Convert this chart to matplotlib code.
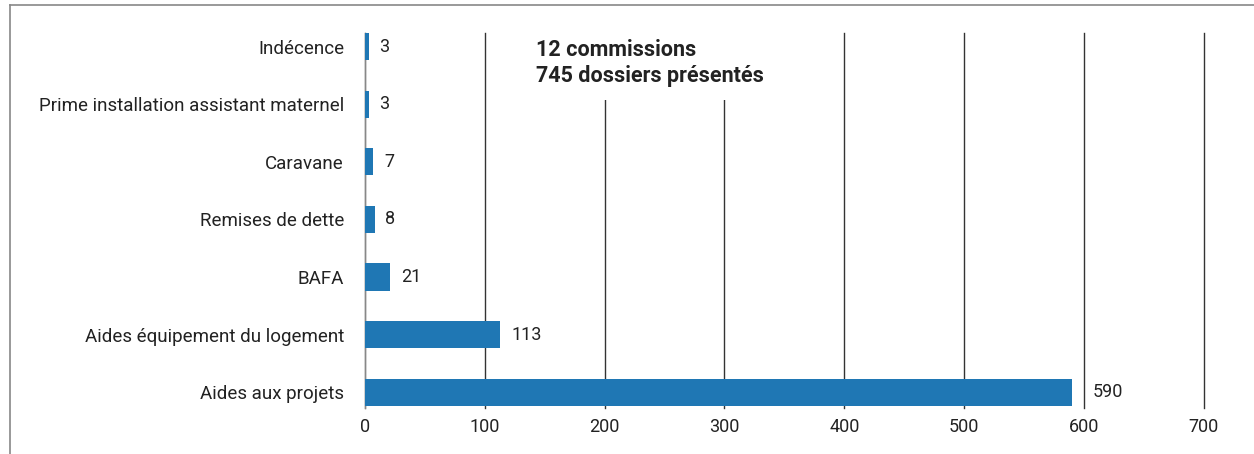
import matplotlib.pyplot as plt
from matplotlib.lines import Line2D
from matplotlib.patches import Rectangle

categories = ['Indécence', 'Prime installation assistant maternel', 'Caravane',
              'Remises de dette', 'BAFA', 'Aides équipement du logement', 'Aides aux projets']
values = [3, 3, 7, 8, 21, 113, 590]
xticks = [0, 100, 200, 300, 400, 500, 600, 700]

plt.rcParams['font.family'] = ['Roboto', 'DejaVu Sans']

fig = plt.figure(figsize=(12.54, 4.54), dpi=100)
ax = fig.add_axes([0.291, 0.101, 0.669, 0.826])

ypos = list(range(len(categories)))
ax.barh(ypos, values, height=0.47, color='#1f77b4', zorder=3)
for y, v in zip(ypos, values):
    x = v + 9
    # push label past a gridline if it would sit on it
    for t in xticks:
        if v < t <= x + 3:
            x = t + 7
    ax.text(x, y, str(v), va='center', ha='left', fontsize=13, color='#222222')

ax.set_xlim(0, 700)
ax.set_ylim(6.28, -0.24)
ax.set_yticks(ypos)
ax.set_yticklabels(categories, fontsize=13.5, color='#222222')
ax.set_xticks(xticks)
ax.set_xticklabels([str(t) for t in xticks], fontsize=13, color='#222222')
ax.tick_params(axis='y', length=0, pad=15)
ax.tick_params(axis='x', length=0, pad=7)
for s in ['top', 'right', 'bottom']:
    ax.spines[s].set_visible(False)
ax.spines['left'].set_color('#888888')
ax.set_axisbelow(True)
ax.grid(axis='x', color='#333333', linewidth=1)
for gl in ax.get_xgridlines():
    gl.set_clip_on(False)
ax.grid(axis='y', visible=False)

# white box behind the summary text hides the gridlines
ax.add_patch(Rectangle((112, -0.3), 233, 1.22, facecolor='white', edgecolor='none',
                       zorder=2, clip_on=False))
ax.text(142.5, 0.28, '12 commissions\n745 dossiers présentés', fontsize=15.5,
        fontweight='bold', color='#222222', va='center', ha='left', linespacing=1.25, zorder=4)

# outer frame (cropped on right and bottom)
fig.add_artist(Line2D([10 / 1254, 10 / 1254], [0, 1 - 5 / 454], transform=fig.transFigure,
                      color='#888888', linewidth=1.2))
fig.add_artist(Line2D([10 / 1254, 1], [1 - 5 / 454, 1 - 5 / 454], transform=fig.transFigure,
                      color='#888888', linewidth=1.2))

fig.savefig('out.png', dpi=100)
